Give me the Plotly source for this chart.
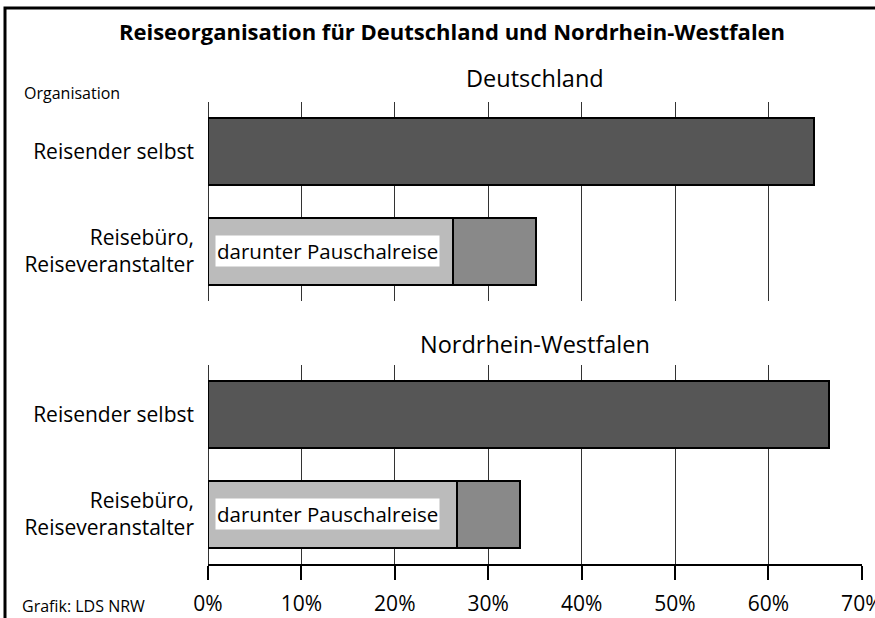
import plotly.graph_objects as go

# Werte in Prozent
kategorien = ["Reisender selbst", "Reisebüro,<br>Reiseveranstalter"]
regionen = ["Deutschland", "Nordrhein-Westfalen"]
reisender_selbst = [64.9, 66.5]
reisebuero_gesamt = [35.1, 33.4]
pauschalreise = [26.2, 26.7]
x_ticks = [0, 10, 20, 30, 40, 50, 60, 70]
x_ticktext = [f"{v}%" for v in x_ticks]

DARK = "#565656"
MID = "#898989"
LIGHT = "#bbbbbb"
FONT = "Open Sans"

fig = go.Figure()
outline = dict(color="black", width=2)
for i, reg in enumerate(regionen):
    xa, ya = ("x", "y") if i == 0 else ("x2", "y2")
    fig.add_trace(go.Bar(
        y=[kategorien[0]], x=[reisender_selbst[i]], orientation="h",
        marker=dict(color=DARK, line=outline), width=0.67,
        xaxis=xa, yaxis=ya, showlegend=False, name=reg))
    fig.add_trace(go.Bar(
        y=[kategorien[1]], x=[reisebuero_gesamt[i]], orientation="h",
        marker=dict(color=MID, line=outline), width=0.67,
        xaxis=xa, yaxis=ya, showlegend=False, name=reg))
    fig.add_trace(go.Bar(
        y=[kategorien[1]], x=[pauschalreise[i]], orientation="h",
        marker=dict(color=LIGHT, line=outline), width=0.67,
        xaxis=xa, yaxis=ya, showlegend=False, name=reg))
    fig.add_annotation(
        x=0.7, y=kategorien[1], xref=xa, yref=ya, xanchor="left",
        text="darunter Pauschalreise", showarrow=False, bgcolor="white",
        borderpad=1, font=dict(size=20.5, color="black", family=FONT))

grid = dict(range=[0, 70.02], tickvals=x_ticks, ticktext=x_ticktext, showgrid=True,
            gridcolor="#333333", gridwidth=1, zeroline=True, zerolinecolor="#333333",
            zerolinewidth=1, fixedrange=True, automargin=False)
yax = dict(type="category", categoryorder="array", categoryarray=kategorien,
           autorange="reversed", showgrid=False, zeroline=False, ticks="",
           automargin=False, fixedrange=True,
           ticklabelstandoff=13, tickfont=dict(size=21, color="black", family=FONT))

fig.update_layout(
    width=875, height=618, barmode="overlay", bargap=0,
    margin=dict(l=208, r=13, t=102, b=54),
    paper_bgcolor="white", plot_bgcolor="white",
    font=dict(family=FONT, color="black"),
    title=dict(text="<b>Reiseorganisation für Deutschland und Nordrhein-Westfalen</b>",
               x=452 / 875, xanchor="center", y=1 - 32 / 618, yanchor="middle",
               font=dict(size=22, family=FONT, color="black")),
    xaxis=dict(**grid, anchor="y", showticklabels=False, showline=False),
    xaxis2=dict(**grid, anchor="y2", showline=True, linecolor="black", linewidth=2,
                ticks="outside", ticklen=14, tickwidth=2, tickcolor="black",
                ticklabelstandoff=6, ticklabeloverflow="allow",
                tickfont=dict(size=21, color="black", family=FONT)),
    yaxis=dict(**yax, domain=[(564 - 301) / 462, 1], anchor="x"),
    yaxis2=dict(**yax, domain=[0, (564 - 365) / 462], anchor="x2"),
)

# Panel-Überschriften und Beschriftungen
fig.add_annotation(x=0.5, y=(564 - 78) / 462, xref="paper", yref="paper",
                   text="Deutschland", showarrow=False, yanchor="middle",
                   font=dict(size=23.5, family=FONT, color="black"))
fig.add_annotation(x=0.5, y=(564 - 344) / 462, xref="paper", yref="paper",
                   text="Nordrhein-Westfalen", showarrow=False, yanchor="middle",
                   font=dict(size=23.5, family=FONT, color="black"))
fig.add_annotation(x=(22 - 208) / 654, y=(564 - 93) / 462, xref="paper", yref="paper",
                   text="Organisation", showarrow=False, xanchor="left", yanchor="middle",
                   font=dict(size=16, family=FONT, color="black"))
fig.add_annotation(x=(20 - 208) / 654, y=(564 - 606) / 462, xref="paper", yref="paper",
                   text="Grafik: LDS NRW", showarrow=False, xanchor="left", yanchor="middle",
                   font=dict(size=16, family=FONT, color="black"))

# Rahmen um die ganze Grafik
fig.add_shape(type="rect", xref="paper", yref="paper",
              x0=(5 - 208) / 654, x1=1.1, y0=-0.3, y1=(564 - 8) / 462,
              line=dict(color="black", width=3), layer="below")

# Seitenrand des Browsers entfernen, damit die Grafik bei (0, 0) beginnt
fig.write_html("out.html", config={"displayModeBar": False},
               post_script="document.body.style.margin='0';")
